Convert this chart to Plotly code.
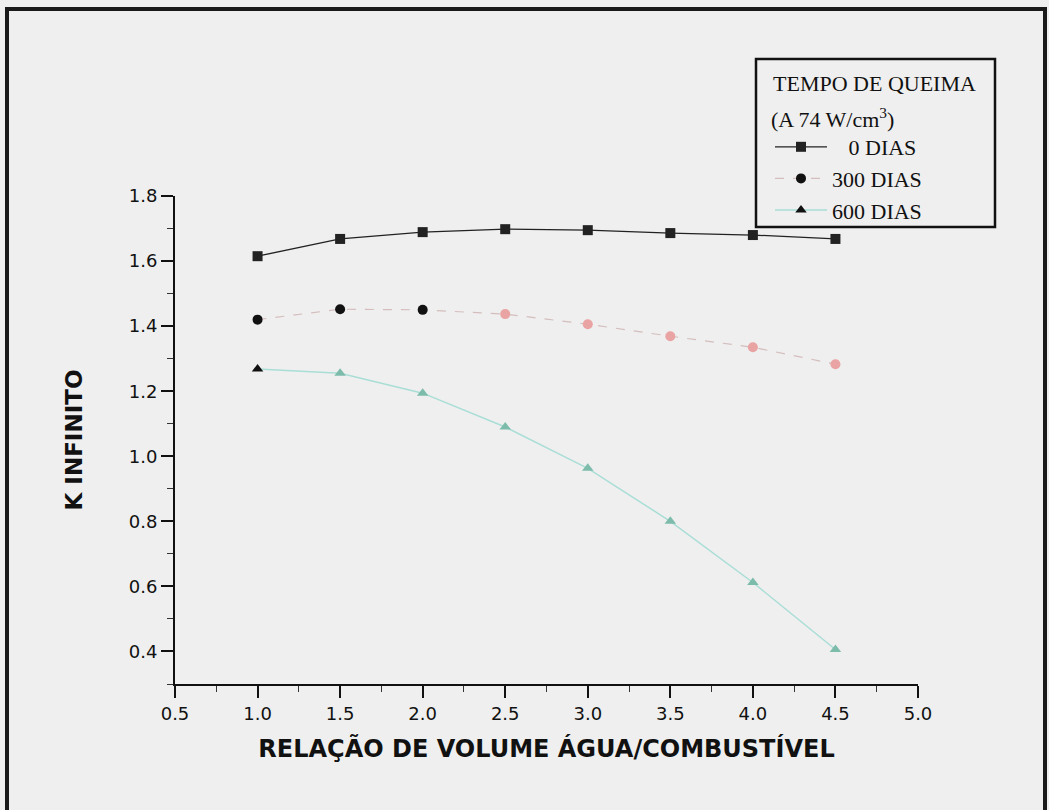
import plotly.graph_objects as go

ratio = [1.0, 1.5, 2.0, 2.5, 3.0, 3.5, 4.0, 4.5]
k_0 = [1.615, 1.668, 1.689, 1.698, 1.695, 1.686, 1.680, 1.668]
k_300 = [1.420, 1.452, 1.450, 1.437, 1.406, 1.369, 1.335, 1.283]
k_600 = [1.268, 1.255, 1.194, 1.090, 0.963, 0.800, 0.612, 0.406]

names = ["\u00a0\u00a0\u00a00 DIAS", "300 DIAS", "600 DIAS"]
legend_title_1 = "TEMPO DE QUEIMA"
legend_title_2 = "(A 74 W/cm<sup>3</sup>)"
x_title = "RELAÇÃO DE VOLUME ÁGUA/COMBUSTÍVEL"
y_title = "K INFINITO"

BG = "#efefef"
PINK = "#eaa3a3"
TEAL = "#7dbcab"

c300 = ["#111111"] * 3 + [PINK] * 5
c600 = ["#111111"] + [TEAL] * 7

fig = go.Figure()
fig.add_trace(go.Scatter(
    x=ratio, y=k_0, name=names[0], mode="lines+markers",
    line=dict(color="#222222", width=1.3),
    marker=dict(symbol="square", size=10, color="#222222"),
))
fig.add_trace(go.Scatter(
    x=ratio, y=k_300, name=names[1], mode="lines+markers",
    line=dict(color="#d5bdbd", width=1.2, dash="dash"),
    marker=dict(symbol="circle", size=10, color=c300),
))
fig.add_trace(go.Scatter(
    x=ratio, y=k_600, name=names[2], mode="lines+markers",
    line=dict(color="#a9ded6", width=1.5),
    marker=dict(symbol="triangle-up", size=10, color=c600),
))

L, R, T, B = 175, 918, 196, 684
W, H = 1049, 810
pw, ph = R - L, B - T

def px(x):
    return (x - L) / pw

def py(y):
    return (B - y) / ph

serif = dict(family="Liberation Serif", size=22, color="#111111")

fig.update_layout(
    width=W, height=H,
    margin=dict(l=L, r=W - R, t=T, b=H - B, pad=0),
    paper_bgcolor=BG, plot_bgcolor=BG,
    font=dict(family="DejaVu Sans", color="#111111"),
    showlegend=True,
    legend=dict(
        x=px(770), y=py(126), xanchor="left", yanchor="top",
        bgcolor="rgba(0,0,0,0)", borderwidth=0,
        font=serif, tracegroupgap=0, itemwidth=52,
    ),
    annotations=[
        dict(text=legend_title_1, xref="paper", yref="paper",
             x=px(771), y=py(83), xanchor="left", yanchor="middle",
             showarrow=False, font=serif),
        dict(text=legend_title_2, xref="paper", yref="paper",
             x=px(769), y=py(118), xanchor="left", yanchor="middle",
             showarrow=False, font=serif),
    ],
    shapes=[
        dict(type="rect", xref="paper", yref="paper",
             x0=px(756), x1=px(995), y0=py(227), y1=py(59),
             line=dict(color="#111111", width=2.5), fillcolor="rgba(0,0,0,0)"),
        dict(type="rect", xref="paper", yref="paper",
             x0=px(7), x1=px(1045), y0=py(830), y1=py(9),
             line=dict(color="#1a1a1a", width=4), fillcolor="rgba(0,0,0,0)"),
    ],
)

fig.update_xaxes(
    range=[0.5, 5.0], tick0=0.5, dtick=0.5, tickformat=".1f",
    showline=True, linecolor="#111111", linewidth=2,
    ticks="outside", ticklen=12, tickwidth=1.5, tickcolor="#111111",
    minor=dict(dtick=0.25, ticks="outside", ticklen=6, tickwidth=1.2, tickcolor="#333333"),
    showgrid=False, zeroline=False,
    tickfont=dict(family="DejaVu Sans", size=18, color="#111111"),
    title=dict(text="<b>" + x_title + "</b>", standoff=18,
               font=dict(family="DejaVu Sans", size=24, color="#111111")),
)
fig.update_yaxes(
    range=[0.3, 1.8], tick0=0.4, dtick=0.2, tickformat=".1f",
    showline=True, linecolor="#111111", linewidth=2,
    ticks="outside", ticklen=12, tickwidth=1.5, tickcolor="#111111",
    minor=dict(dtick=0.1, ticks="outside", ticklen=6, tickwidth=1.2, tickcolor="#333333"),
    showgrid=False, zeroline=False,
    tickfont=dict(family="DejaVu Sans", size=18, color="#111111"),
    title=dict(text="<b>" + y_title + "</b>", standoff=40,
               font=dict(family="DejaVu Sans", size=23, color="#111111")),
)

fig.write_html("out.html")
